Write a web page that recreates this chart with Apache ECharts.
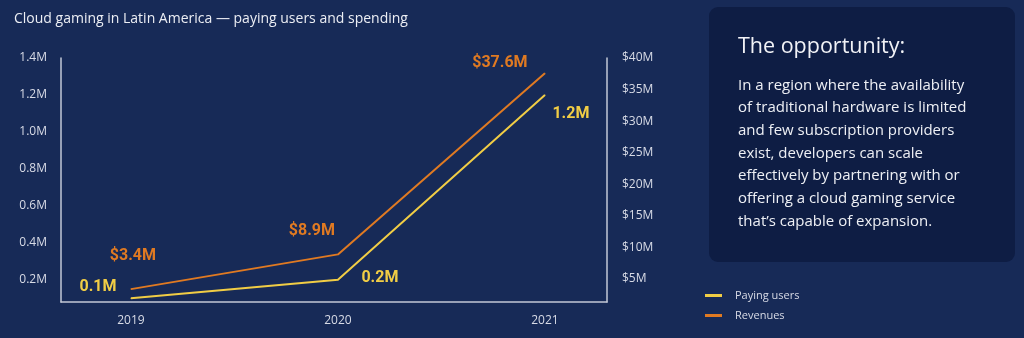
<!DOCTYPE html>
<html>
<head>
<meta charset="utf-8">
<title>Cloud gaming in Latin America</title>
<script src="https://cdn.jsdelivr.net/npm/echarts@6/dist/echarts.min.js"></script>
<style>
  html, body { margin: 0; padding: 0; background: #172a57; }
  #chart { width: 1024px; height: 338px; }
</style>
</head>
<body>
<div id="chart"></div>
<script>
// Years on the horizontal axis
const years = [2019, 2020, 2021];
// Paying users, in millions
const payingUsers = [0.1, 0.2, 1.2];
// Revenues, in millions of US dollars
const revenues = [3.4, 8.9, 37.6];
// Tick labels of the two value axes
const userTicks = [0.2, 0.4, 0.6, 0.8, 1.0, 1.2, 1.4];
const revenueTicks = [5, 10, 15, 20, 25, 30, 35, 40];

const BG = '#172a57';
const PANEL = '#0e1d44';
const YELLOW = '#f1cd45';
const ORANGE = '#e07a22';
const AXIS = '#c3c8d6';
const TEXT = '#d8dbe6';
const FONT = '"Open Sans", Roboto, sans-serif';
const VALUE_FONT = 'Roboto, "Open Sans", sans-serif';

// label placement around each point (dx, dy of the label centre)
const userLabelOffsets = [[-33, -11], [42, -2], [26, 19]];
const revenueLabelOffsets = [[2, -33], [-26, -23], [-45, -10]];

function pointsWithLabels(values, offsets) {
  return values.map((v, i) => ({
    value: [years[i], v],
    label: { offset: offsets[i] }
  }));
}

const chart = echarts.init(document.getElementById('chart'), null, { renderer: 'canvas' });

const option = {
  backgroundColor: BG,
  animation: false,
  textStyle: { fontFamily: FONT },
  title: {
    text: 'Cloud gaming in Latin America \u2014 paying users and spending',
    left: 9,
    top: 7,
    textStyle: { color: '#eceef4', fontSize: 14, fontWeight: 'normal', fontFamily: FONT }
  },
  legend: {
    orient: 'vertical',
    left: 700,
    top: 285,
    itemWidth: 17,
    itemHeight: 3,
    itemGap: 9,
    icon: 'rect',
    data: ['Paying users', 'Revenues'],
    textStyle: { color: TEXT, fontSize: 11, padding: [0, 0, 0, 8], fontFamily: FONT }
  },
  grid: { left: 61, right: 417, top: 58, bottom: 36 },
  xAxis: {
    type: 'value',
    min: 2018.662,
    max: 2021.3,
    splitLine: { show: false },
    axisLine: { show: true, onZero: false, lineStyle: { color: AXIS, width: 1.5 } },
    axisTick: { show: false },
    axisLabel: {
      customValues: years,
      color: TEXT,
      fontSize: 12,
      margin: 13,
      formatter: v => String(v)
    }
  },
  yAxis: [
    {
      type: 'value',
      position: 'left',
      min: 0.08,
      max: 1.4,
      splitLine: { show: false },
      axisLine: { show: true, onZero: false, lineStyle: { color: AXIS, width: 1.5 } },
      axisTick: { show: false },
      axisLabel: {
        customValues: userTicks,
        color: TEXT,
        fontSize: 12,
        margin: 14,
        formatter: v => v.toFixed(1) + 'M'
      }
    },
    {
      type: 'value',
      position: 'right',
      min: 1.36,
      max: 40,
      splitLine: { show: false },
      axisLine: { show: true, onZero: false, lineStyle: { color: AXIS, width: 1.5 } },
      axisTick: { show: false },
      axisLabel: {
        customValues: revenueTicks,
        color: TEXT,
        fontSize: 12,
        margin: 15,
        formatter: v => '$' + v + 'M'
      }
    }
  ],
  series: [
    {
      name: 'Paying users',
      type: 'line',
      yAxisIndex: 0,
      data: pointsWithLabels(payingUsers, userLabelOffsets),
      symbol: 'circle',
      symbolSize: 1,
      color: YELLOW,
      lineStyle: { color: YELLOW, width: 2 },
      label: {
        show: true,
        position: 'inside',
        color: YELLOW,
        fontSize: 16,
        fontWeight: 'bold',
        fontFamily: VALUE_FONT,
        formatter: p => p.value[1].toFixed(1) + 'M'
      }
    },
    {
      name: 'Revenues',
      type: 'line',
      yAxisIndex: 1,
      data: pointsWithLabels(revenues, revenueLabelOffsets),
      symbol: 'circle',
      symbolSize: 1,
      color: ORANGE,
      lineStyle: { color: ORANGE, width: 2 },
      label: {
        show: true,
        position: 'inside',
        color: ORANGE,
        fontSize: 16,
        fontWeight: 'bold',
        fontFamily: VALUE_FONT,
        formatter: p => '$' + p.value[1].toFixed(1) + 'M'
      }
    }
  ],
  graphic: [
    {
      type: 'rect',
      shape: { x: 709, y: 7, width: 306, height: 255, r: 9 },
      style: { fill: PANEL },
      z: 0
    },
    {
      type: 'text',
      x: 738,
      y: 36,
      style: {
        text: 'The opportunity:',
        fill: '#f2f3f7',
        font: '21.5px ' + FONT
      }
    },
    {
      type: 'text',
      x: 738,
      y: 74,
      style: {
        text: 'In a region where the availability\n' +
              'of traditional hardware is limited\n' +
              'and few subscription providers\n' +
              'exist, developers can scale\n' +
              'effectively by partnering with or\n' +
              'offering a cloud gaming service\n' +
              'that\u2019s capable of expansion.',
        fill: '#eef0f5',
        font: '15px ' + FONT,
        lineHeight: 22.7
      }
    }
  ]
};

chart.setOption(option);
</script>
</body>
</html>
